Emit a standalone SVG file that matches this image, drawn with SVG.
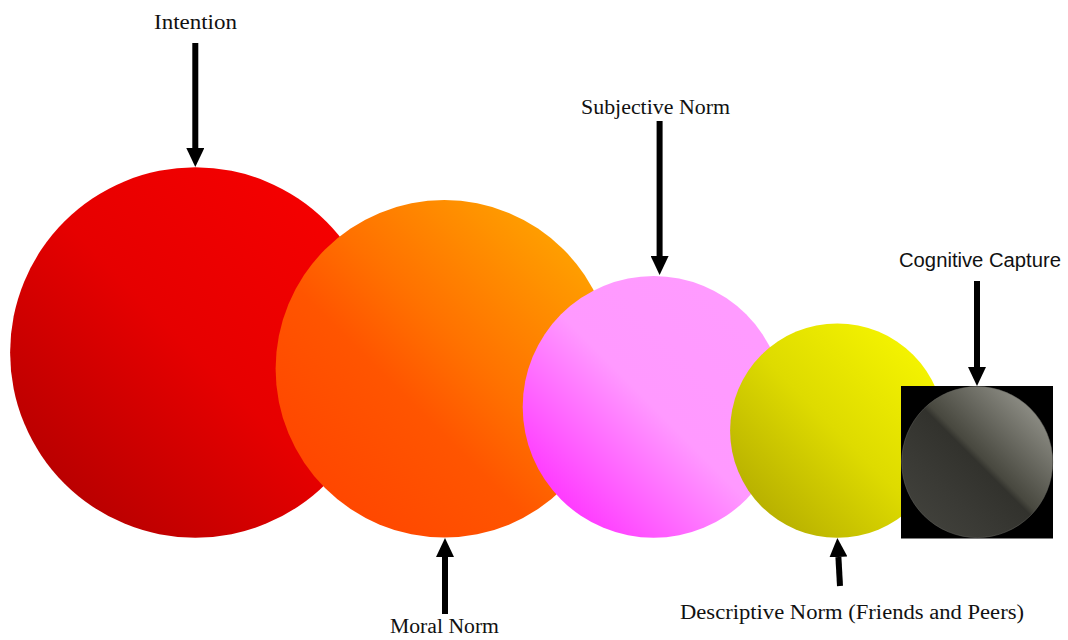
<svg xmlns="http://www.w3.org/2000/svg" width="1068" height="640" viewBox="0 0 1068 640">
<style>
.lbl{font-family:"Liberation Serif","DejaVu Serif",serif;font-size:20px;fill:#111;text-anchor:start}
.lbls{font-family:"Liberation Sans","DejaVu Sans",sans-serif;font-size:20px;fill:#111}
.conn{stroke:#000;stroke-width:6;fill:none}
</style>
<defs>
<linearGradient id="gRed" x1="0" y1="1" x2="1" y2="0">
<stop offset="0" stop-color="#a80000"/>
<stop offset="0.5" stop-color="#e60000"/>
<stop offset="1" stop-color="#fa0000"/>
</linearGradient>
<linearGradient id="gOrange" x1="0" y1="1" x2="1" y2="0">
<stop offset="0" stop-color="#ff3f00"/>
<stop offset="0.4" stop-color="#ff5500"/>
<stop offset="0.55" stop-color="#ff7000"/>
<stop offset="1" stop-color="#ffb400"/>
</linearGradient>
<linearGradient id="gPink" x1="0" y1="1" x2="1" y2="0">
<stop offset="0.05" stop-color="#ff22ff"/>
<stop offset="0.5" stop-color="#ff99ff"/>
<stop offset="1" stop-color="#ff9cff"/>
</linearGradient>
<linearGradient id="gYellow" x1="0" y1="1" x2="1" y2="0">
<stop offset="0.1" stop-color="#b4ac00"/>
<stop offset="0.5" stop-color="#dedb00"/>
<stop offset="1" stop-color="#fcfc00"/>
</linearGradient>
<linearGradient id="gGray" x1="0" y1="1" x2="1" y2="0">
<stop offset="0" stop-color="#45453f"/>
<stop offset="0.3" stop-color="#3a3a35"/>
<stop offset="0.5" stop-color="#32322d"/>
<stop offset="0.53" stop-color="#48483f"/>
<stop offset="1" stop-color="#a8a8a0"/>
</linearGradient>
<marker id="ah" viewBox="0 0 19 18" markerUnits="userSpaceOnUse" markerWidth="19" markerHeight="18" refX="0" refY="9" orient="auto">
<path d="M0,0 L19,9 L0,18 z" fill="#000"/>
</marker>
</defs>
<g id="intention"><circle cx="195.3" cy="352.5" r="185.2" fill="url(#gRed)"/></g>
<g id="moral-norm"><circle cx="444.3" cy="368.8" r="168.7" fill="url(#gOrange)"/></g>
<g id="subjective-norm"><circle cx="653.6" cy="406.9" r="130.9" fill="url(#gPink)"/></g>
<g id="descriptive-norm"><circle cx="837.3" cy="430.6" r="107.2" fill="url(#gYellow)"/></g>
<g id="cognitive-capture">
<rect x="901" y="386" width="152" height="152.5" fill="#000"/>
<circle cx="977.2" cy="462.1" r="75.5" fill="url(#gGray)" stroke="#6a6a64" stroke-opacity="0.5" stroke-width="1"/>
</g>
<g id="connectors">
<line class="conn" x1="195.3" y1="43" x2="195.3" y2="148" marker-end="url(#ah)"/>
<line class="conn" x1="659.6" y1="121" x2="659.6" y2="256" marker-end="url(#ah)"/>
<line class="conn" x1="977" y1="281" x2="977" y2="367" marker-end="url(#ah)"/>
<line class="conn" x1="445" y1="614" x2="445" y2="557" marker-end="url(#ah)"/>
<line class="conn" x1="840" y1="586" x2="838.4" y2="557" marker-end="url(#ah)"/>
</g>
<g id="labels">
<text class="lbl" x="154" y="29" textLength="83" lengthAdjust="spacingAndGlyphs">Intention</text>
<text class="lbl" x="581" y="114" textLength="149" lengthAdjust="spacingAndGlyphs">Subjective Norm</text>
<text class="lbls" x="899" y="267" textLength="162" lengthAdjust="spacingAndGlyphs">Cognitive Capture</text>
<text class="lbl" x="390" y="633" textLength="109" lengthAdjust="spacingAndGlyphs">Moral Norm</text>
<text class="lbl" x="680" y="619" textLength="344" lengthAdjust="spacingAndGlyphs">Descriptive Norm (Friends and Peers)</text>
</g>
</svg>
